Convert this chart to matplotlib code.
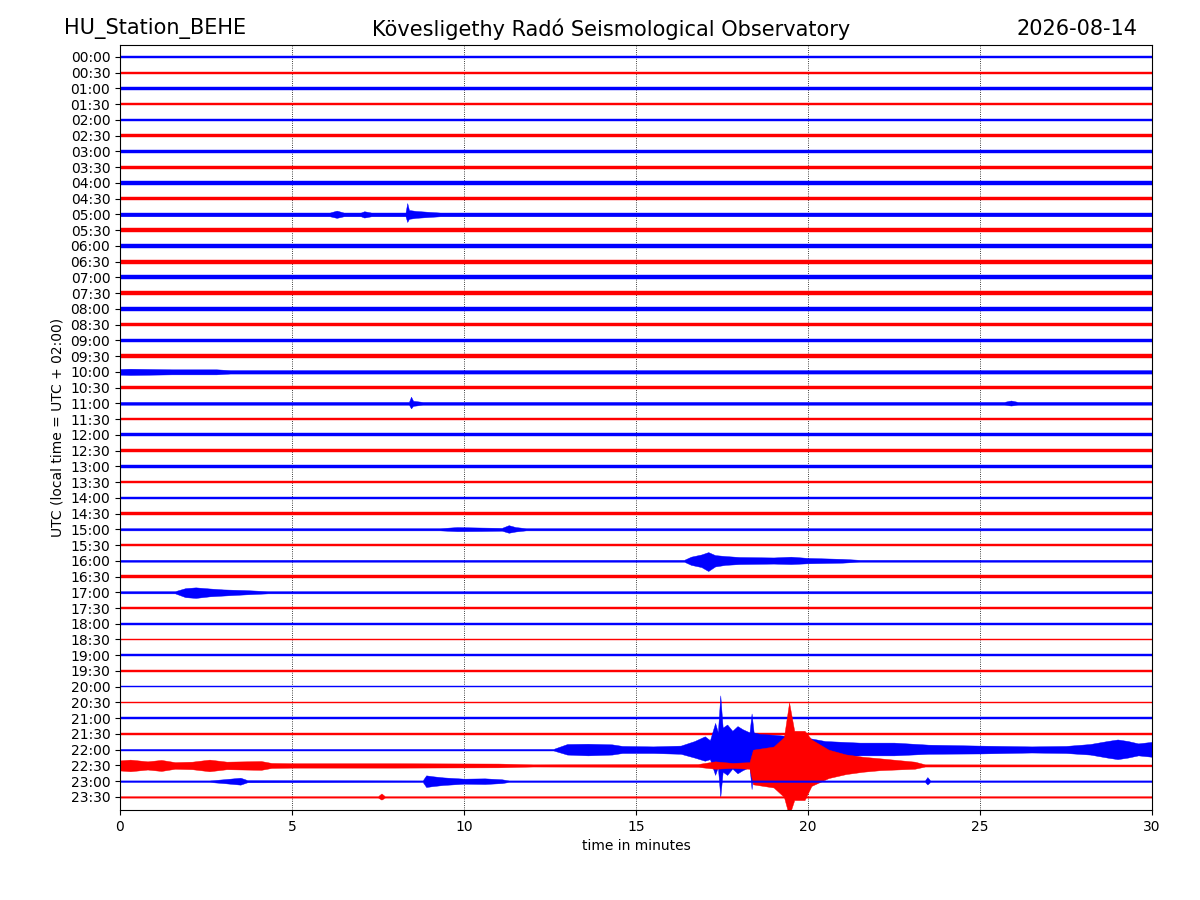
import matplotlib
matplotlib.use("Agg")
import matplotlib.pyplot as plt
import numpy as np

station = "HU_Station_BEHE"
observatory = "Kövesligethy Radó Seismological Observatory"
day = "2026-08-14"

# one row per half hour, 00:00 .. 23:30
row_labels = ["%02d:%02d" % (h, m) for h in range(24) for m in (0, 30)]
row_colors = ["b", "r"] * 24

# background noise half-width of every row (in row units)
base_amp = [0.07, 0.07, 0.07, 0.07, 0.08, 0.08, 0.08, 0.10, 0.11, 0.11,
            0.12, 0.13, 0.13, 0.12, 0.12, 0.11, 0.11, 0.10, 0.11, 0.11,
            0.11, 0.09, 0.09, 0.09, 0.09, 0.09, 0.09, 0.07, 0.08, 0.07,
            0.07, 0.07, 0.06, 0.07, 0.07, 0.06, 0.06, 0.06, 0.05, 0.045,
            0.045, 0.045, 0.05, 0.045, 0.05, 0.06, 0.05, 0.045]

# envelopes of rows with visible events: minutes, upper and lower swing
t_0500 = [0, 6.1, 6.3, 6.5, 7.0, 7.1, 7.3, 8.30, 8.35, 8.40, 8.6, 9.0, 9.3, 30]
up_0500 = [0.12, 0.12, 0.24, 0.12, 0.12, 0.20, 0.12, 0.12, 0.72, 0.28, 0.22, 0.16, 0.12, 0.12]
dn_0500 = [0.12, 0.12, 0.22, 0.12, 0.12, 0.20, 0.12, 0.12, 0.48, 0.28, 0.22, 0.16, 0.12, 0.12]

t_1000 = [0, 0.3, 1.5, 2.8, 3.2, 30]
up_1000 = [0.18, 0.20, 0.16, 0.16, 0.11, 0.11]
dn_1000 = [0.18, 0.20, 0.16, 0.16, 0.11, 0.11]

t_1100 = [0, 8.40, 8.46, 8.52, 8.8, 25.7, 25.9, 26.1, 30]
up_1100 = [0.09, 0.09, 0.42, 0.16, 0.09, 0.09, 0.18, 0.09, 0.09]
dn_1100 = [0.09, 0.09, 0.32, 0.16, 0.09, 0.09, 0.14, 0.09, 0.09]

t_1500 = [0, 9.3, 9.8, 10.5, 11.1, 11.3, 11.5, 11.8, 30]
up_1500 = [0.07, 0.07, 0.14, 0.11, 0.09, 0.26, 0.14, 0.07, 0.07]
dn_1500 = [0.07, 0.07, 0.12, 0.11, 0.09, 0.22, 0.14, 0.07, 0.07]

t_1600 = [0, 16.4, 16.6, 16.9, 17.1, 17.3, 17.6, 18.0, 19.0, 19.5, 20.0, 21.0, 21.5, 30]
up_1600 = [0.06, 0.06, 0.26, 0.40, 0.55, 0.36, 0.30, 0.24, 0.21, 0.26, 0.18, 0.12, 0.06, 0.06]
dn_1600 = [0.06, 0.06, 0.26, 0.40, 0.65, 0.36, 0.26, 0.21, 0.18, 0.21, 0.16, 0.12, 0.06, 0.06]

t_1700 = [0, 1.6, 1.9, 2.2, 2.6, 3.0, 3.6, 4.3, 30]
up_1700 = [0.07, 0.07, 0.26, 0.31, 0.24, 0.18, 0.14, 0.07, 0.07]
dn_1700 = [0.07, 0.07, 0.31, 0.36, 0.26, 0.21, 0.14, 0.07, 0.07]

t_2200 = [0, 12.6, 13.0, 13.6, 14.3, 14.6, 15.5, 16.3, 16.7, 17.0, 17.15, 17.3, 17.38,
          17.45, 17.52, 17.65, 17.8, 17.95, 18.1, 18.30, 18.36, 18.42, 18.6, 19.0,
          19.5, 20.0, 20.5, 21.0, 21.5, 22.5, 23.5, 25.0, 26.5, 27.5, 28.2, 28.7,
          29.0, 29.3, 29.6, 30]
up_2200 = [0.05, 0.05, 0.36, 0.38, 0.34, 0.24, 0.21, 0.26, 0.55, 0.85, 0.60, 1.70, 1.10,
           3.45, 1.40, 1.60, 1.20, 1.50, 1.30, 1.10, 2.30, 1.10, 1.00, 0.95, 0.85,
           0.75, 0.55, 0.50, 0.45, 0.45, 0.32, 0.26, 0.21, 0.24, 0.36, 0.55, 0.65,
           0.55, 0.40, 0.50]
dn_2200 = [0.05, 0.05, 0.31, 0.36, 0.31, 0.21, 0.21, 0.26, 0.50, 0.70, 0.60, 1.60, 1.10,
           3.00, 1.40, 1.60, 1.20, 1.50, 1.30, 1.10, 2.50, 1.10, 1.00, 0.95, 0.85,
           0.65, 0.45, 0.45, 0.36, 0.36, 0.26, 0.24, 0.18, 0.21, 0.31, 0.50, 0.60,
           0.50, 0.36, 0.45]

t_2230 = [0, 0.3, 0.8, 1.2, 1.6, 2.1, 2.6, 3.1, 3.6, 4.1, 4.4, 5.0, 8.0, 11.0, 12.0,
          16.8, 17.3, 17.8, 18.3, 18.4, 18.7, 19.0, 19.3, 19.45, 19.6, 19.9, 20.1,
          20.6, 21.1, 21.6, 22.1, 23.1, 23.4, 30]
up_2230 = [0.32, 0.37, 0.26, 0.35, 0.21, 0.24, 0.37, 0.24, 0.26, 0.28, 0.16, 0.14, 0.14,
           0.12, 0.07, 0.09, 0.26, 0.16, 0.21, 1.00, 1.10, 1.20, 1.80, 4.00, 2.20,
           2.20, 1.65, 1.00, 0.70, 0.55, 0.45, 0.24, 0.07, 0.06]
dn_2230 = [0.32, 0.37, 0.26, 0.35, 0.21, 0.24, 0.37, 0.24, 0.26, 0.28, 0.16, 0.14, 0.14,
           0.12, 0.07, 0.09, 0.21, 0.16, 0.21, 1.20, 1.30, 1.40, 2.00, 3.20, 2.20,
           2.20, 1.30, 0.80, 0.55, 0.40, 0.30, 0.21, 0.07, 0.06]

t_2300 = [0, 2.6, 3.0, 3.5, 3.7, 8.8, 8.9, 9.1, 9.4, 10.0, 10.6, 11.1, 11.3,
          23.4, 23.47, 23.55, 30]
up_2300 = [0.05, 0.05, 0.12, 0.22, 0.07, 0.05, 0.37, 0.31, 0.24, 0.16, 0.18, 0.12, 0.05,
           0.05, 0.26, 0.05, 0.05]
dn_2300 = [0.05, 0.05, 0.12, 0.22, 0.07, 0.05, 0.37, 0.31, 0.24, 0.16, 0.18, 0.12, 0.05,
           0.05, 0.21, 0.05, 0.05]

t_2330 = [0, 7.5, 7.6, 7.7, 30]
up_2330 = [0.045, 0.045, 0.22, 0.045, 0.045]
dn_2330 = [0.045, 0.045, 0.17, 0.045, 0.045]

events = {
    10: (t_0500, up_0500, dn_0500),
    20: (t_1000, up_1000, dn_1000),
    22: (t_1100, up_1100, dn_1100),
    30: (t_1500, up_1500, dn_1500),
    32: (t_1600, up_1600, dn_1600),
    34: (t_1700, up_1700, dn_1700),
    44: (t_2200, up_2200, dn_2200),
    45: (t_2230, up_2230, dn_2230),
    46: (t_2300, up_2300, dn_2300),
    47: (t_2330, up_2330, dn_2330),
}

fig = plt.figure(figsize=(12, 9), dpi=100)
ax = fig.add_axes([0.1, 0.1, 0.86, 0.85])

for i, lab in enumerate(row_labels):
    if i in events:
        t, up, dn = events[i]
    else:
        t = [0, 30]
        up = [base_amp[i], base_amp[i]]
        dn = [base_amp[i], base_amp[i]]
    t = np.array(t)
    # y axis is inverted, so "up" means smaller y
    ax.fill_between(t, i - np.array(up), i + np.array(dn), color=row_colors[i],
                    linewidth=0.3, zorder=2 + i * 0.01)

ax.set_xlim(0, 30)
ax.set_ylim(47.83, -0.76)
ax.set_xticks([0, 5, 10, 15, 20, 25, 30])
ax.set_yticks(range(len(row_labels)))
ax.set_yticklabels(row_labels)
ax.grid(True, axis="x", linestyle=":", color="k", linewidth=0.6, zorder=1)
ax.set_xlabel("time in minutes")
ax.set_ylabel("UTC (local time = UTC + 02:00)")

fig.text(0.053, 0.968, station, fontsize=15, ha="left", va="center")
fig.text(0.509, 0.968, observatory, fontsize=15, ha="center", va="center")
fig.text(0.9475, 0.968, day, fontsize=15, ha="right", va="center")

fig.savefig("out.png", dpi=100)
